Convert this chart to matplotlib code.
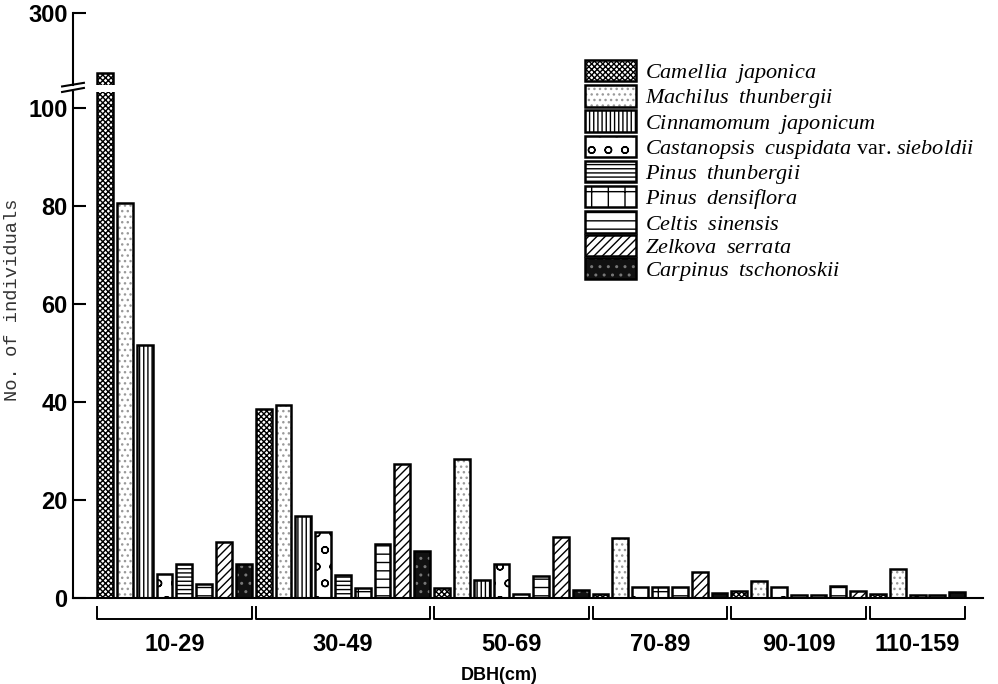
import matplotlib
matplotlib.use("Agg")
import matplotlib.pyplot as plt
import matplotlib.transforms as mtransforms
from matplotlib.patches import Patch

plt.rcParams['mathtext.fontset'] = 'custom'
plt.rcParams['mathtext.rm'] = 'Liberation Serif'
plt.rcParams['mathtext.it'] = 'Liberation Serif:italic'
plt.rcParams['hatch.linewidth'] = 1.0

groups = ["10-29", "30-49", "50-69", "70-89", "90-109", "110-159"]

species = [r"$\mathit{Camellia\ \ japonica}$",
           r"$\mathit{Machilus\ \ thunbergii}$",
           r"$\mathit{Cinnamomum\ \ japonicum}$",
           r"$\mathit{Castanopsis\ \ cuspidata}$ var. $\mathit{sieboldii}$",
           r"$\mathit{Pinus\ \ thunbergii}$",
           r"$\mathit{Pinus\ \ densiflora}$",
           r"$\mathit{Celtis\ \ sinensis}$",
           r"$\mathit{Zelkova\ \ serrata}$",
           r"$\mathit{Carpinus\ \ tschonoskii}$"]

# number of individuals per DBH class (0 = not present)
camellia     = [133, 38.6, 2.0, 0.8, 1.4, 0.8]
machilus     = [80.6, 39.4, 28.4, 12.2, 3.5, 5.9]
cinnamomum   = [51.6, 16.8, 3.7, 0, 0, 0]
castanopsis  = [4.9, 13.5, 7.0, 2.2, 2.3, 0.6]
p_thunbergii = [6.9, 4.7, 0.8, 0, 0.6, 0]
p_densiflora = [0, 2.1, 0, 2.2, 0.6, 0]
celtis       = [2.9, 11.0, 4.5, 2.2, 2.4, 0.6]
zelkova      = [11.4, 27.3, 12.4, 5.3, 1.4, 0]
carpinus     = [6.9, 9.6, 1.6, 1.0, 0, 1.2]

values = [camellia, machilus, cinnamomum, castanopsis, p_thunbergii,
          p_densiflora, celtis, zelkova, carpinus]

# (face colour, hatch, hatch colour)
styles = [("white", "xxxxxx", "black"),
          ("white", "...", "#9a9a9a"),
          ("white", "||||", "black"),
          ("white", "o", "black"),
          ("white", "----", "black"),
          ("white", "+", "black"),
          ("white", "--", "black"),
          ("white", "////", "black"),
          ("#111111", "..", "#777777")]

fig = plt.figure(figsize=(9.98, 6.84), dpi=100)
ax = fig.add_axes([73/998, 86/684, 910/998, 506/684])
ax_top = fig.add_axes([73/998, 599/684, 910/998, 72/684])

w = 0.8
pos = 0
spans = []
for g in range(len(groups)):
    first = pos
    for s in range(len(species)):
        v = values[s][g]
        if v == 0:
            continue
        fc, hatch, hc = styles[s]
        for a in (ax, ax_top):
            a.bar(pos, v, width=w, facecolor=fc, hatch=hatch, edgecolor=hc,
                  linewidth=0)
            a.bar(pos, v, width=w, fill=False, edgecolor="black",
                  linewidth=1.8)
        pos += 1
    spans.append((first - w / 2, pos - 1 + w / 2))

xmin, xmax = -1.62, 44.3
ax.set_xlim(xmin, xmax)
ax_top.set_xlim(xmin, xmax)
ax.set_ylim(0, 103.3)
ax_top.set_ylim(100, 300)

for a in (ax, ax_top):
    a.spines["top"].set_visible(False)
    a.spines["right"].set_visible(False)
    a.spines["left"].set_linewidth(1.5)
    a.tick_params(axis="y", direction="in", length=9, width=1.5, pad=4,
                  labelsize=17)
    a.set_xticks([])
ax_top.spines["bottom"].set_visible(False)
ax.spines["bottom"].set_linewidth(1.5)
ax.set_yticks([0, 20, 40, 60, 80, 100])
ax_top.set_yticks([300])
for a in (ax, ax_top):
    for lab in a.get_yticklabels():
        lab.set_fontfamily("Liberation Sans")
        lab.set_fontweight("bold")

# axis break marks
kw = dict(color="black", lw=1.5, clip_on=False)
ax.plot([-0.012, 0.012], [1.0, 1.008], transform=ax.transAxes, **kw)
ax_top.plot([-0.012, 0.012], [-0.02, 0.03], transform=ax_top.transAxes, **kw)

# group brackets and labels
trans = mtransforms.blended_transform_factory(ax.transData, ax.transAxes)
for (x0, x1), name in zip(spans, groups):
    ax.plot([x0, x0, x1, x1], [-0.018, -0.042, -0.042, -0.018],
            transform=trans, color="black", lw=1.4, clip_on=False)
    ax.text((x0 + x1) / 2, -0.092, name, transform=trans, ha="center",
            va="center", fontsize=17, fontweight="bold",
            family="Liberation Sans")

fig.text(0.5, (684 - 676) / 684, "DBH(cm)", ha="center", va="center",
         fontsize=13, fontweight="bold", family="Liberation Sans")
fig.text(0.013, 1 - 300 / 684, "No. of individuals", rotation=90,
         ha="center", va="center", fontsize=13.5, family="Liberation Mono",
         color="#333333")

handles = [(Patch(facecolor=fc, hatch=h, edgecolor=hc, linewidth=0),
            Patch(fill=False, edgecolor="black", linewidth=1.8))
           for fc, h, hc in styles]
fig.legend(handles, species, loc="upper left",
           bbox_to_anchor=(585 / 998, 1 - 60 / 684), frameon=False,
           borderaxespad=0, borderpad=0, labelspacing=0, handlelength=2.3,
           handleheight=1.1, handletextpad=0.4,
           prop={"family": "Liberation Serif", "size": 16})

fig.savefig("out.png", dpi=100)
